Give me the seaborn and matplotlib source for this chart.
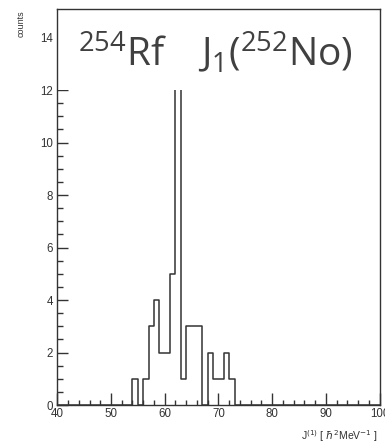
import matplotlib
matplotlib.use("Agg")
import matplotlib.pyplot as plt
from matplotlib.patches import Rectangle
from matplotlib.ticker import MultipleLocator
import pandas as pd
import seaborn as sns

# J(1) moment of inertia spectrum, 1 hbar^2/MeV bins (bin centres and counts)
j1_centres = [54.5, 56.5, 57.5, 58.5, 59.5, 60.5, 61.5, 62.5, 63.5,
              64.5, 65.5, 66.5, 68.5, 69.5, 70.5, 71.5, 72.5]
j1_counts = [1, 1, 3, 4, 2, 2, 5, 14, 1, 3, 3, 3, 2, 1, 1, 2, 1]
x_ticks = [40, 50, 60, 70, 80, 90, 100]
y_ticks = [0, 2, 4, 6, 8, 10, 12, 14]

df = pd.DataFrame({"j1": j1_centres, "n": j1_counts})

sns.set_style("white")
plt.rcParams["font.family"] = ["Liberation Sans", "DejaVu Sans"]

fig = plt.figure(figsize=(3.85, 4.41), dpi=100)
ax = fig.add_axes([57.3 / 385, 36 / 441, 322.2 / 385, 396 / 441])

line_col = "#333333"
sns.histplot(data=df, x="j1", weights="n", binwidth=1, binrange=(40, 100),
             element="step", fill=False, color=line_col, linewidth=1.1, ax=ax)

ymax = 15.09
ax.set_xlim(40, 100)
ax.set_ylim(0, ymax)
ax.set_xticks(x_ticks)
ax.set_yticks(y_ticks)
ax.xaxis.set_minor_locator(MultipleLocator(2))
ax.yaxis.set_minor_locator(MultipleLocator(0.5))
ax.tick_params(axis="x", which="major", direction="in", length=8.6, width=1,
               color=line_col, labelsize=8.3, labelcolor=line_col, pad=2,
               bottom=True, top=False)
ax.tick_params(axis="x", which="minor", direction="in", length=3.8, width=1,
               color=line_col, bottom=True, top=False)
ax.tick_params(axis="y", which="major", direction="in", length=7.7, width=1,
               color=line_col, labelsize=8.3, labelcolor=line_col, pad=3,
               left=True, right=False)
ax.tick_params(axis="y", which="minor", direction="in", length=4.3, width=1,
               color=line_col, left=True, right=False)
for s in ax.spines.values():
    s.set_color(line_col)
    s.set_linewidth(1)
ax.set_xlabel("")
ax.set_ylabel("")

# white title panel across the top of the frame (frame lines stay on top)
box = Rectangle((0, 12 / ymax), 1, 1 - 12 / ymax, transform=ax.transAxes,
                facecolor="white", edgecolor="none", zorder=2.2,
                clip_on=False)
ax.add_patch(box)
ax.text(0.064, (405 - 66) / 396,
        r"$\mathregular{^{254}Rf\quad J_1(^{252}No)}$",
        transform=ax.transAxes, fontsize=28, color="#404040",
        family=["Open Sans", "DejaVu Sans"], ha="left", va="baseline",
        zorder=6)

fig.text(21.5 / 385, 1 - 10 / 441, "counts", rotation=90, ha="center",
         va="top", fontsize=6.5, color=line_col)
fig.text(378 / 385, 1 - 436 / 441, r"J$^{(1)}$ [ $\hbar^{2}$MeV$^{-1}$ ]",
         ha="right", va="center", fontsize=7.5, color=line_col)

fig.savefig("out.png", dpi=100)
